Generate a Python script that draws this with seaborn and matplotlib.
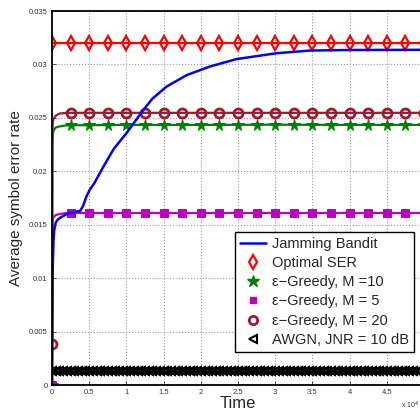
import numpy as np
import matplotlib
matplotlib.use("Agg")
import matplotlib.pyplot as plt
from matplotlib.lines import Line2D
import seaborn as sns

# time axis in units of 10^4 steps
bandit_t = [0, 0.005, 0.01, 0.02, 0.03, 0.05, 0.08, 0.12, 0.2, 0.3, 0.38, 0.42, 0.46, 0.51,
            0.57, 0.68, 0.83, 1.0, 1.14, 1.23, 1.35, 1.54, 1.81, 2.12, 2.48, 3.02, 3.47, 4.0, 5.0]
bandit_ser = [0.0, 0.006, 0.011, 0.0135, 0.0145, 0.0152, 0.0155, 0.0157, 0.0160, 0.0162, 0.0163,
              0.0168, 0.0176, 0.0183, 0.0189, 0.0203, 0.0221, 0.02356, 0.0249, 0.02575, 0.0268,
              0.02793, 0.0290, 0.0298, 0.0305, 0.03105, 0.0313, 0.03135, 0.03137]

greedy_t = [0, 0.005, 0.01, 0.02, 0.05, 0.1, 0.2, 1.0, 2.0, 3.0, 4.0, 5.0]
greedy_m10 = [0.0, 0.0225, 0.0234, 0.0238, 0.0241, 0.0242, 0.0243, 0.02434, 0.02434, 0.02436, 0.02434, 0.02434]
greedy_m5 = [0.0, 0.0150, 0.0155, 0.0157, 0.0159, 0.0160, 0.0161, 0.0161, 0.0161, 0.0161, 0.0161, 0.0161]
greedy_m20 = [0.0038, 0.0238, 0.0245, 0.0249, 0.0252, 0.0254, 0.02547, 0.02547, 0.02547, 0.02547, 0.02547, 0.02547]

optimal_ser = 0.032
awgn_ser = 0.0013

marker_t = np.arange(0, 5.001, 0.25)
awgn_marker_t = np.arange(0, 5.001, 0.05)

sns.set_theme(style="ticks")
plt.rcParams["font.family"] = ["Liberation Sans", "DejaVu Sans"]

fig = plt.figure(figsize=(4.2, 4.13), dpi=100)
ax = fig.add_axes([52 / 420, 28 / 413, 372 / 420, 374 / 413])

lw = 1.6
# optimal SER
opt_y = np.full(len(marker_t), optimal_ser)
sns.lineplot(x=marker_t, y=opt_y, ax=ax, color="#ff0000", lw=lw, marker="d", markersize=7,
             markerfacecolor="none", markeredgecolor="#ff0000", markeredgewidth=1.6)

# epsilon-greedy curves
m20_mk = np.interp(marker_t, greedy_t, greedy_m20)
m10_mk = np.interp(marker_t, greedy_t, greedy_m10)
m5_mk = np.interp(marker_t, greedy_t, greedy_m5)

sns.lineplot(x=greedy_t, y=greedy_m20, ax=ax, color="#a01830", lw=lw)
sns.lineplot(x=marker_t, y=m20_mk, ax=ax, color="#a01830", linestyle="", marker="o", markersize=6.5,
             markerfacecolor="none", markeredgecolor="#a01830", markeredgewidth=2)
sns.lineplot(x=greedy_t, y=greedy_m10, ax=ax, color="#008000", lw=lw)
sns.lineplot(x=marker_t, y=m10_mk, ax=ax, color="#008000", linestyle="", marker="*", markersize=8.5,
             markerfacecolor="#008000", markeredgecolor="#008000")
sns.lineplot(x=greedy_t, y=greedy_m5, ax=ax, color="#c000c0", lw=lw)
sns.lineplot(x=marker_t, y=m5_mk, ax=ax, color="#c000c0", linestyle="", marker="s", markersize=5.5,
             markerfacecolor="#c000c0", markeredgecolor="#c000c0")

# AWGN
awgn_y = np.full(len(awgn_marker_t), awgn_ser)
sns.lineplot(x=awgn_marker_t, y=awgn_y, ax=ax, color="black", lw=1.0, marker="<", markersize=6,
             markerfacecolor="none", markeredgecolor="black", markeredgewidth=1.5)

# jamming bandit
sns.lineplot(x=bandit_t, y=bandit_ser, ax=ax, color="#0000ff", lw=1.8)

ax.set_xlim(0, 5)
ax.set_ylim(0, 0.035)
ax.set_xticks(np.arange(0, 5.01, 0.5))
ax.set_xticklabels(["0", "0.5", "1", "1.5", "2", "2.5", "3", "3.5", "4", "4.5", ""])
ax.set_yticks(np.arange(0, 0.0351, 0.005))
ax.set_yticklabels(["0", "0.005", "0.01", "0.015", "0.02", "0.025", "0.03", "0.035"])
ax.tick_params(direction="in", labelsize=5.5, length=3, width=0.6, colors="#333333", pad=3)
ax.grid(True, linestyle=":", color="#999999", lw=0.8)
for s in ax.spines.values():
    s.set_linewidth(1.3)
    s.set_color("black")

ax.set_xlabel("Time", fontsize=12, labelpad=0)
ax.set_ylabel("Average symbol error rate", fontsize=11, labelpad=4)
fig.text(0.955, 0.012, r"x 10$^4$", fontsize=5, color="#333333")

handles = [
    Line2D([], [], color="#0000ff", lw=1.8),
    Line2D([], [], ls="none", marker="d", ms=7, mfc="none", mec="#ff0000", mew=1.6),
    Line2D([], [], ls="none", marker="*", ms=9, mfc="#008000", mec="#008000"),
    Line2D([], [], ls="none", marker="s", ms=5, mfc="#c000c0", mec="#c000c0"),
    Line2D([], [], ls="none", marker="o", ms=6, mfc="none", mec="#a01830", mew=2),
    Line2D([], [], ls="none", marker="<", ms=6, mfc="none", mec="black", mew=1.5),
]
labels = ["Jamming Bandit", "Optimal SER", "ε−Greedy, M =10", "ε−Greedy, M = 5",
          "ε−Greedy, M = 20", "AWGN, JNR = 10 dB"]
leg = ax.legend(handles, labels, loc="lower left", bbox_to_anchor=(235 / 420, 61 / 413),
                bbox_transform=fig.transFigure, fontsize=10.5, frameon=True, fancybox=False,
                edgecolor="black", framealpha=1, borderpad=0.35, labelspacing=0.36,
                handlelength=1.8, handletextpad=0.4, borderaxespad=0)
leg.get_frame().set_linewidth(1.0)

fig.savefig("out.png", dpi=100)
